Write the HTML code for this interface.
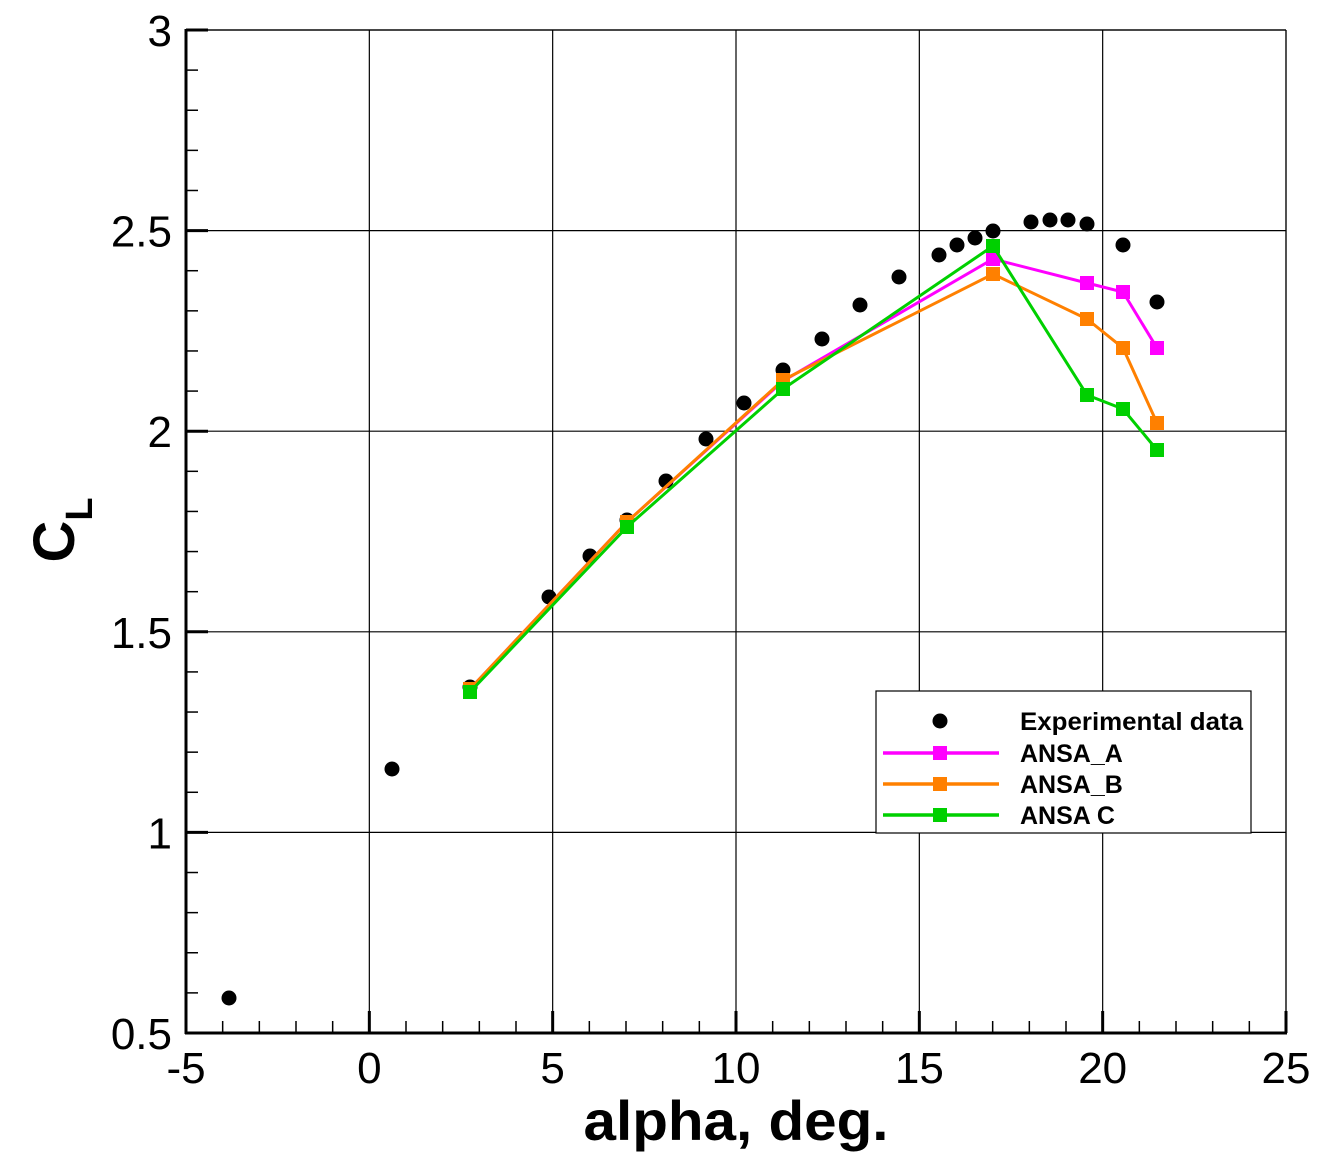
<!DOCTYPE html>
<html><head><meta charset="utf-8"><style>html,body{margin:0;padding:0;background:#fff}svg{display:block}</style></head>
<body>
<svg id="s" xmlns="http://www.w3.org/2000/svg" width="1331" height="1168" viewBox="0 0 1331 1168" font-family="Liberation Sans, sans-serif">
<rect width="1331" height="1168" fill="#fff"/>
<g id="grid" stroke="#000" stroke-width="1.2"></g>
<g id="ticks" stroke="#000"></g>
<g id="labels" font-size="44" fill="#000"></g>
<line x1="186" y1="29" x2="186" y2="1034" stroke="#000" stroke-width="3"/>
<line x1="185" y1="1033" x2="1287" y2="1033" stroke="#000" stroke-width="3"/>
<g id="series"></g>
<text x="736" y="1140" font-size="56" font-weight="bold" text-anchor="middle" textLength="305" lengthAdjust="spacingAndGlyphs">alpha, deg.</text>
<g transform="translate(74,530) rotate(-90)"><text x="0" y="0" font-size="58" font-weight="bold" text-anchor="middle">C<tspan font-size="38" dy="18">L</tspan></text></g>
<rect x="876" y="691" width="375" height="142" fill="#fff" stroke="#000" stroke-width="1.2"/>
<circle cx="940" cy="721" r="7.5" fill="#000"/>
<line x1="883" y1="753" x2="999" y2="753" stroke="#ff00ff" stroke-width="3.5"/><rect x="933" y="746" width="14" height="14" fill="#ff00ff"/>
<line x1="883" y1="784" x2="999" y2="784" stroke="#ff8000" stroke-width="3.5"/><rect x="933" y="777" width="14" height="14" fill="#ff8000"/>
<line x1="883" y1="815" x2="999" y2="815" stroke="#00d000" stroke-width="3.5"/><rect x="933" y="808" width="14" height="14" fill="#00d000"/>
<g font-size="25" font-weight="bold" fill="#000">
<text x="1020" y="730" textLength="223" lengthAdjust="spacingAndGlyphs">Experimental data</text>
<text x="1020" y="762">ANSA_A</text>
<text x="1020" y="793">ANSA_B</text>
<text x="1020" y="824">ANSA C</text>
</g>
</svg>
<script>
var NS="http://www.w3.org/2000/svg";
function el(p,t,a,txt){var e=document.createElementNS(NS,t);for(var k in a)e.setAttribute(k,a[k]);if(txt!==undefined)e.textContent=txt;document.getElementById(p).appendChild(e);return e;}
function X(v){return 186+(v+5)*1100/30;}
function Y(v){return 1033-(v-0.5)*1003/2.5;}
for(var v=0;v<=25;v+=5){var x=X(v);el("grid","line",{x1:x,y1:30,x2:x,y2:1033});}
for(var v=1;v<=3;v+=0.5){var y=Y(v);el("grid","line",{x1:186,y1:y,x2:1286,y2:y});}
el("grid","line",{x1:186,y1:30,x2:1286,y2:30});
el("grid","line",{x1:1286,y1:30,x2:1286,y2:1033});
for(var i=-5;i<=25;i++){var x=X(i);var maj=(i%5==0);el("ticks","line",{x1:x,y1:1033,x2:x,y2:1033-(maj?22:12),"stroke-width":maj?3:1.5});}
for(var i=5;i<=30;i++){var y=Y(i/10);var maj=(i%5==0);el("ticks","line",{x1:186,y1:y,x2:186+(maj?22:12),y2:y,"stroke-width":maj?3:1.5});}
var yl=["0.5","1","1.5","2","2.5","3"];
for(var i=0;i<6;i++){el("labels","text",{x:172,y:Y(0.5+i*0.5)+16,"text-anchor":"end"},yl[i]);}
for(var v=-5;v<=25;v+=5){el("labels","text",{x:X(v),y:1083,"text-anchor":"middle"},String(v));}
function series(pts,c){el("series","polyline",{points:pts.map(function(p){return p.join(",")}).join(" "),fill:"none",stroke:c,"stroke-width":3});pts.forEach(function(p){el("series","rect",{x:p[0]-7,y:p[1]-7,width:14,height:14,fill:c});});}
var exp=[[229,998],[392,769],[470,687],[549,597],[590,556],[627,520],[666,481],[706,439],[744,403],[783,370],[822,339],[860,305],[899,277],[939,255],[957,245],[975,238],[993,231],[1031,222],[1050,220],[1068,220],[1087,224],[1123,245],[1157,302]];
exp.forEach(function(p){el("series","circle",{cx:p[0],cy:p[1],r:7.5,fill:"#000"});});
series([[470,689],[627,522],[783,381],[993,259],[1087,283],[1123,292],[1157,348]],"#ff00ff");
series([[470,689],[627,522],[783,380],[993,274],[1087,319],[1123,348],[1157,423]],"#ff8000");
series([[470,692],[627,527],[783,389],[993,246],[1087,395],[1123,409],[1157,450]],"#00d000");
</script>
</body></html>
